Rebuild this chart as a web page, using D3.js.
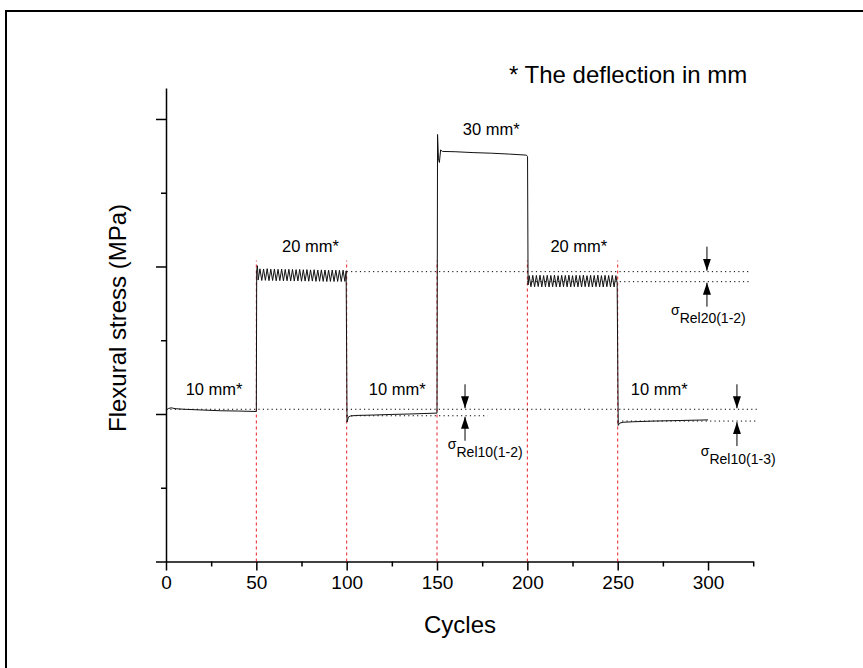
<!DOCTYPE html>
<html>
<head>
<meta charset="utf-8">
<script src="https://cdn.jsdelivr.net/npm/d3@7"></script>
<style>
  body { margin: 0; background: #fff; }
  svg { display: block; font-family: "Liberation Sans", Arial, sans-serif; }
</style>
</head>
<body>
<svg></svg>
<script>
// stress, [cycle, stress] pairs, one array per deflection step
const step10a = [[0.5,10.3],[1.5,10.38],[3,10.42],[5,10.36],[10,10.32],[20,10.27],[30,10.22],[40,10.2],[50,10.17]];
const step20a = [[50.2,19.7],[50.6,20.05],[51,19.08],[52,19.84],[53,19.05],[54,19.83],[55,19.06],[56,19.85],[57,19.04],[58,19.82],
  [59,19.05],[60,19.83],[61,19.03],[62,19.81],[63,19.04],[64,19.82],[65,19.02],[66,19.8],[67,19.03],[68,19.81],[69,19.02],
  [70,19.8],[71,19.01],[72,19.79],[73,19.02],[74,19.8],[75,19.0],[76,19.78],[77,19.01],[78,19.79],[79,19.0],[80,19.77],
  [81,19.01],[82,19.78],[83,18.99],[84,19.76],[85,19.0],[86,19.77],[87,18.99],[88,19.76],[89,18.98],[90,19.75],[91,18.99],
  [92,19.76],[93,18.98],[94,19.75],[95,18.99],[96,19.74],[97,18.98],[98,19.75],[99,18.99],[99.7,19.7]];
const step10b = [[100.2,9.45],[101,9.8],[102,9.86],[105,9.9],[115,9.93],[125,9.97],[135,10.0],[145,10.04],[150,10.06]];
const step30 = [[150.3,28.95],[150.8,27.3],[151.3,27.05],[152,27.9],[153,27.8],[160,27.78],[170,27.72],[180,27.68],
  [190,27.62],[199.5,27.55],[200.1,27.45]];
const step20b = [[200.4,18.75],[201,19.38],[202,18.63],[203,19.4],[204,18.62],[205,19.39],[206,18.64],[207,19.41],[208,18.62],
  [209,19.38],[210,18.63],[211,19.4],[212,18.61],[213,19.39],[214,18.63],[215,19.41],[216,18.62],[217,19.38],[218,18.61],
  [219,19.4],[220,18.63],[221,19.39],[222,18.62],[223,19.41],[224,18.61],[225,19.38],[226,18.63],[227,19.4],[228,18.62],
  [229,19.39],[230,18.61],[231,19.41],[232,18.63],[233,19.38],[234,18.62],[235,19.4],[236,18.61],[237,19.39],[238,18.63],
  [239,19.41],[240,18.62],[241,19.38],[242,18.61],[243,19.4],[244,18.63],[245,19.39],[246,18.62],[247,19.4],[248,18.61],
  [249,19.38],[249.7,18.9]];
const step10c = [[250.3,9.22],[251,9.38],[253,9.44],[258,9.47],[270,9.52],[285,9.56],[300,9.6]];

// dotted reference levels: [from cycle, to cycle, stress]
const refLevels = [[0,327,10.32],[100,178,9.88],[250,327,9.52],[100,324,19.65],[200,324,18.97]];

// red dashed step changes
const stepCycles = [50,100,150,200,250];
const stepTop = 20.4;

// step labels
const stepNames = ["10 mm*","20 mm*","10 mm*","30 mm*","20 mm*","10 mm*"];
const stepLabelCycle = [26.6,80,128,180,228.5,273];
const stepLabelStress = [11.3,21.0,11.3,28.9,21.0,11.3];

// relaxation markers: arrow cycle, upper level, lower level, subscript, label anchor
const relCycle = [165.5,299.4,316];
const relUpper = [10.32,19.65,10.32];
const relLower = [9.88,18.97,9.52];
const relSub = ["Rel10(1-2)","Rel20(1-2)","Rel10(1-3)"];
const relLabelCycle = [156,279.5,296];
const relLabelStress = [7.63,16.71,7.15];

const xTicks = [0,50,100,150,200,250,300];
const xMinor = [25,75,125,175,225,275,325];
const yTicks = [0,10,20,30];
const yMinor = [5,15,25];

const W = 863, H = 668;
const svg = d3.select("svg").attr("width", W).attr("height", H);

// frame
svg.append("rect")
  .attr("x", 6).attr("y", 11).attr("width", 900).attr("height", 700)
  .attr("fill", "none").attr("stroke", "#000").attr("stroke-width", 2);

const x = d3.scaleLinear().domain([0, 325]).range([166, 753.2]);
const y = d3.scaleLinear().domain([0, 32.1]).range([561.5, 88]);

// axes
const xAxis = svg.append("g").attr("transform", `translate(0,${y(0)})`)
  .call(d3.axisBottom(x).tickValues(xTicks).tickSize(9).tickSizeOuter(0).tickPadding(5));
svg.append("g").attr("transform", `translate(0,${y(0)})`)
  .call(d3.axisBottom(x).tickValues(xMinor).tickSize(5).tickSizeOuter(0).tickFormat(""))
  .select(".domain").remove();
xAxis.selectAll("text").attr("font-size", 19).attr("font-family", "Liberation Sans, Arial, sans-serif").attr("fill", "#000");

svg.append("g").attr("transform", `translate(${x(0)},0)`)
  .call(d3.axisLeft(y).tickValues(yTicks).tickSize(10).tickSizeOuter(0).tickFormat(""));
svg.append("g").attr("transform", `translate(${x(0)},0)`)
  .call(d3.axisLeft(y).tickValues(yMinor).tickSize(5).tickSizeOuter(0).tickFormat(""))
  .select(".domain").remove();
svg.selectAll(".domain, .tick line").attr("stroke", "#000").attr("stroke-width", 1.5);

// red dashed markers
svg.append("g").selectAll("line").data(stepCycles).join("line")
  .attr("x1", d => x(d)).attr("x2", d => x(d))
  .attr("y1", y(0)).attr("y2", y(stepTop))
  .attr("stroke", "#e8202a").attr("stroke-width", 1).attr("stroke-dasharray", "3,3");

// dotted reference lines
svg.append("g").selectAll("line").data(refLevels).join("line")
  .attr("x1", d => x(d[0])).attr("x2", d => x(d[1]))
  .attr("y1", d => y(d[2])).attr("y2", d => y(d[2]))
  .attr("stroke", "#000").attr("stroke-width", 1).attr("stroke-dasharray", "1.2,3.2");

// stress curve
const curve = [].concat(step10a, step20a, step10b, step30, step20b, step10c);
svg.append("path").datum(curve)
  .attr("fill", "none").attr("stroke", "#111").attr("stroke-width", 1)
  .attr("d", d3.line().x(d => x(d[0])).y(d => y(d[1])));

// step labels
svg.append("g").selectAll("text").data(stepNames).join("text")
  .attr("x", (d, i) => x(stepLabelCycle[i])).attr("y", (d, i) => y(stepLabelStress[i]))
  .attr("text-anchor", "middle").attr("font-size", 16.5).text(d => d);

// arrows
const defs = svg.append("defs");
defs.append("marker").attr("id", "head")
  .attr("viewBox", "0 0 10 10").attr("refX", 10).attr("refY", 5)
  .attr("markerWidth", 12).attr("markerHeight", 8).attr("markerUnits", "userSpaceOnUse")
  .attr("preserveAspectRatio", "none").attr("orient", "auto")
  .append("path").attr("d", "M0,0L10,5L0,10Z").attr("fill", "#000");

const arrows = svg.append("g");
relCycle.forEach((c, i) => {
  arrows.append("line")
    .attr("x1", x(c)).attr("x2", x(c))
    .attr("y1", y(relUpper[i]) - 25).attr("y2", y(relUpper[i]) - 1)
    .attr("stroke", "#000").attr("stroke-width", 1).attr("marker-end", "url(#head)");
  arrows.append("line")
    .attr("x1", x(c)).attr("x2", x(c))
    .attr("y1", y(relLower[i]) + 25).attr("y2", y(relLower[i]) + 1)
    .attr("stroke", "#000").attr("stroke-width", 1).attr("marker-end", "url(#head)");
  const t = arrows.append("text")
    .attr("x", x(relLabelCycle[i])).attr("y", y(relLabelStress[i]));
  t.append("tspan").attr("font-size", 14).text("σ");
  t.append("tspan").attr("font-size", 14).attr("dy", 8).text(relSub[i]);
});

// notes and titles
svg.append("text").attr("x", 509).attr("y", 83).attr("font-size", 24)
  .text("* The deflection in mm");

svg.append("text").attr("x", 460).attr("y", 633).attr("text-anchor", "middle")
  .attr("font-size", 24).text("Cycles");

svg.append("text").attr("transform", "translate(126,318) rotate(-90)")
  .attr("text-anchor", "middle").attr("font-size", 24).text("Flexural stress (MPa)");
</script>
</body>
</html>
